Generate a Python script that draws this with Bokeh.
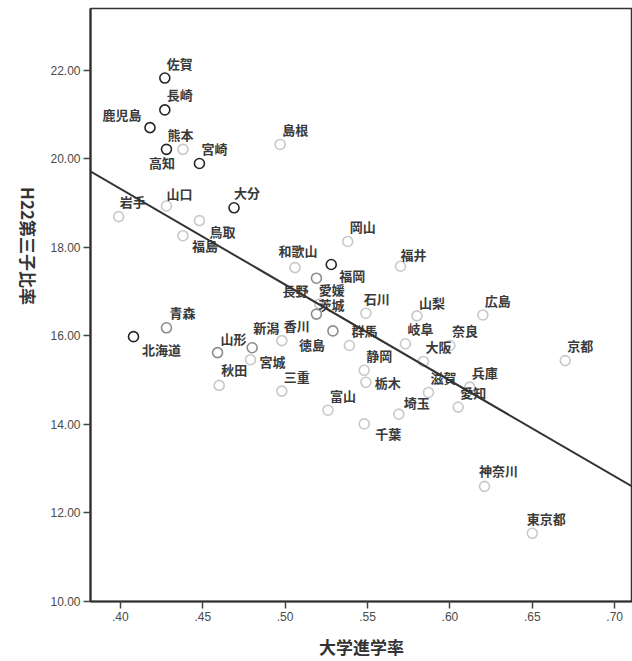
import math
from bokeh.plotting import figure
from bokeh.models import (ColumnDataSource, Range1d, FixedTicker, NumeralTickFormatter,
                          CustomJSTickFormatter, Slope)
from bokeh.core.properties import value
from bokeh.embed import file_html
from bokeh.resources import INLINE

# ---- data ----
prefectures = ["佐賀", "長崎", "鹿児島", "熊本", "高知", "宮崎", "島根", "山口", "大分", "岩手",
               "鳥取", "福島", "和歌山", "岡山", "福井", "福岡", "長野", "愛媛", "茨城", "石川",
               "山梨", "広島", "京都", "青森", "北海道", "山形", "新潟", "香川", "徳島", "群馬",
               "岐阜", "奈良", "大阪", "秋田", "宮城", "三重", "静岡", "栃木", "富山", "滋賀",
               "兵庫", "愛知", "埼玉", "千葉", "神奈川", "東京都"]
university_rate = [0.427, 0.427, 0.418, 0.428, 0.438, 0.448, 0.497, 0.428, 0.469, 0.399,
                   0.448, 0.438, 0.506, 0.538, 0.570, 0.528, 0.519, 0.521, 0.519, 0.549,
                   0.580, 0.620, 0.670, 0.428, 0.408, 0.459, 0.480, 0.498, 0.529, 0.539,
                   0.573, 0.600, 0.584, 0.460, 0.479, 0.498, 0.548, 0.549, 0.526, 0.587,
                   0.612, 0.605, 0.569, 0.548, 0.621, 0.650]
third_child_ratio = [21.82, 21.10, 20.70, 20.21, 20.21, 19.89, 20.32, 18.93, 18.89, 18.69,
                     18.60, 18.26, 17.54, 18.13, 17.57, 17.61, 17.30, 16.72, 16.49, 16.51,
                     16.45, 16.47, 15.44, 16.18, 15.98, 15.62, 15.73, 15.89, 16.11, 15.78,
                     15.82, 15.78, 15.42, 14.88, 15.46, 14.75, 15.22, 14.95, 14.32, 14.72,
                     14.84, 14.39, 14.23, 14.01, 12.60, 11.54]
fit_intercept = 27.98
fit_slope = -21.65
y_ticks = [10, 12, 14, 16, 18, 20, 22]
x_ticks = [0.40, 0.45, 0.50, 0.55, 0.60, 0.65, 0.70]

# ---- styling (label offsets in px: right, down; marker tone) ----
label_dx = [15, 15, -28, 14, -21, 15, 15, 13, 13, 14,
            23, 22, 3, 15, 13, 21, -21, 12, 15, 11,
            15, 15, 15, 16, 28, 16, 14, 15, -21, 15,
            15, 15, 15, 15, 22, 15, 15, 22, 15, 15,
            15, 15, 18, 24, 14, 14]
label_dy = [-15, -15, -13, -15, 13, -15, -15, -13, -15, -15,
            11, 10, -17, -15, -12, 11, 12, -14, -10, -15,
            -13, -14, -15, -15, 13, -14, -20, -15, 14, -15,
            -15, -15, -15, -16, 2, -15, -15, 0, -15, -15,
            -15, -15, -12, 10, -16, -15]
dark = {"佐賀", "長崎", "鹿児島", "熊本", "宮崎", "大分", "北海道", "福岡"}
medium = {"長野", "茨城", "徳島", "山形", "新潟", "青森"}
tones = ["#262626" if n in dark else ("#8c8c8c" if n in medium else "#c9c9c9") for n in prefectures]

src = ColumnDataSource(dict(x=university_rate, y=third_child_ratio, name=prefectures,
                            dx=label_dx, dy=label_dy, tone=tones))

p = figure(width=632, height=661, output_backend="svg", toolbar_location=None,
           x_range=Range1d(0.3819, 0.7108), y_range=Range1d(10, 23.39),
           min_border_left=88, min_border_right=0, min_border_top=8, min_border_bottom=55)
p.background_fill_color = "white"
p.border_fill_color = "white"
p.outline_line_color = "#333333"
p.outline_line_width = 1.5
p.xgrid.visible = False
p.ygrid.visible = False

CJK = "Noto Sans CJK JP"

for ax in (p.xaxis[0], p.yaxis[0]):
    ax.axis_line_color = "#2e2e2e"
    ax.axis_line_width = 2.2
    ax.major_tick_line_color = "#444444"
    ax.major_tick_line_width = 1.5
    ax.major_tick_in = 0
    ax.major_tick_out = 7
    ax.minor_tick_line_color = None
    ax.major_label_text_font = "Liberation Sans"
    ax.major_label_text_font_size = "12px"
    ax.major_label_text_color = "#4a4a4a"
    ax.major_label_standoff = 3
    ax.axis_label_text_font = CJK
    ax.axis_label_text_font_style = "bold"
    ax.axis_label_text_font_size = "17px"
    ax.axis_label_text_color = "#333333"

p.yaxis.ticker = FixedTicker(ticks=y_ticks)
p.yaxis.formatter = NumeralTickFormatter(format="0.00")
p.xaxis.ticker = FixedTicker(ticks=x_ticks)
p.xaxis.formatter = CustomJSTickFormatter(code="return tick.toFixed(2).replace(/^0/, '');")

p.xaxis.axis_label = "大学進学率"
p.xaxis.axis_label_standoff = 10
p.yaxis.axis_label = "H22第三子比率"
p.yaxis.axis_label_standoff = 19
try:
    p.yaxis[0].axis_label_orientation = -math.pi / 2
except Exception:
    pass

# regression line
p.add_layout(Slope(gradient=fit_slope, y_intercept=fit_intercept,
                   line_color="#333333", line_width=2))

# points
p.scatter("x", "y", source=src, marker="circle", size=10, fill_color=None,
          line_color="tone", line_width=1.6)

# point labels
p.text("x", "y", text="name", source=src, x_offset="dx", y_offset="dy",
       text_align="center", text_baseline="middle", text_font=value(CJK),
       text_font_style="bold", text_font_size="13px", text_color="#3a3a3a")

open("out.html", "w").write(file_html(p, INLINE))
